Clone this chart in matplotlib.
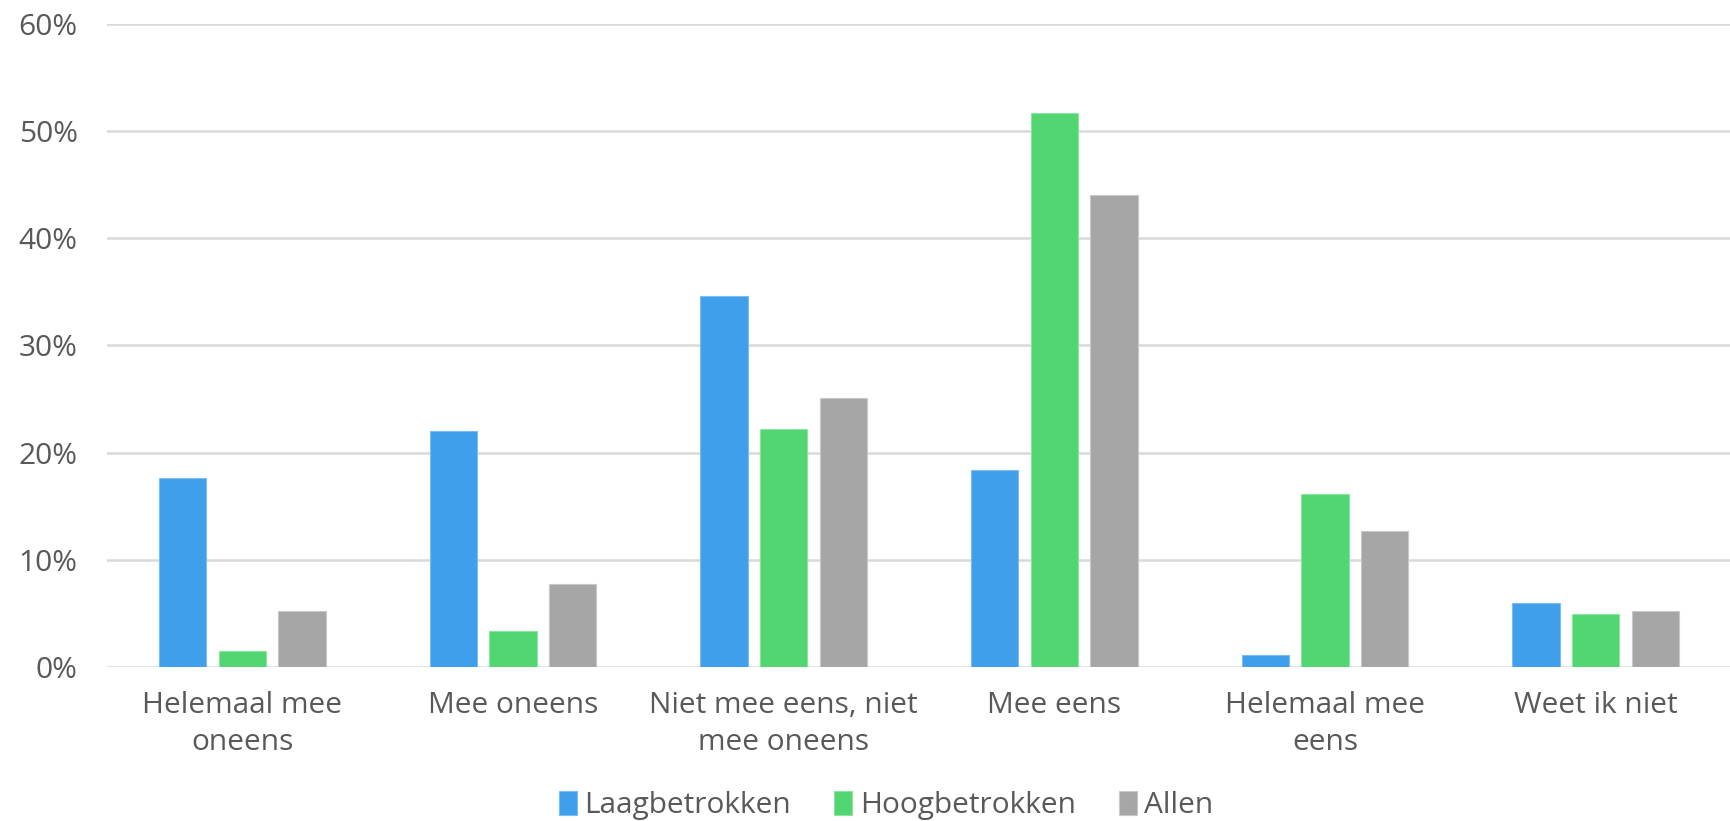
import matplotlib.pyplot as plt
import numpy as np
from matplotlib.ticker import PercentFormatter

categories = ['Helemaal mee\noneens', 'Mee oneens', 'Niet mee eens, niet\nmee oneens',
              'Mee eens', 'Helemaal mee\neens', 'Weet ik niet']
laag = [17.6, 22.0, 34.6, 18.4, 1.1, 6.0]
hoog = [1.5, 3.4, 22.2, 51.7, 16.1, 4.9]
allen = [5.2, 7.7, 25.1, 44.0, 12.7, 5.2]

series = [('Laagbetrokken', laag, '#409FEB', '#7BBDF2'),
          ('Hoogbetrokken', hoog, '#52D672', '#8AE5A0'),
          ('Allen', allen, '#A6A6A6', '#C8C8C8')]

plt.rcParams['font.family'] = ['Open Sans', 'DejaVu Sans']
text_color = '#595959'

fig = plt.figure(figsize=(17.31, 8.21), dpi=100)
ax = fig.add_axes([0.0618, 0.1876, 0.9382, 0.7832])

x = np.arange(len(categories))
width = 0.175
step = 0.22
for i, (name, vals, color, edge) in enumerate(series):
    ax.bar(x + (i - 1) * step, np.array(vals) / 100, width, color=color,
           edgecolor=edge, linewidth=0.8, label=name, zorder=3)

ax.set_xlim(-0.5, len(categories) - 0.5)
ax.set_ylim(0, 0.6)
ax.set_yticks(np.arange(0, 0.61, 0.1))
ax.yaxis.set_major_formatter(PercentFormatter(1.0, decimals=0))
ax.grid(axis='y', color='#D9D9D9', linewidth=1.8, zorder=0)
ax.set_axisbelow(True)
for s in ax.spines.values():
    s.set_visible(False)

ax.set_xticks(x)
ax.set_xticklabels(categories, fontsize=21.5, color=text_color, linespacing=1.4)
ax.tick_params(axis='x', length=0, pad=17)
ax.tick_params(axis='y', length=0, pad=21, labelsize=21.5, labelcolor=text_color)

fig.legend(loc='lower center', bbox_to_anchor=(0.512, -0.032), ncol=3, frameon=False,
           fontsize=21.5, labelcolor=text_color, handlelength=0.6, handleheight=0.85,
           handletextpad=0.25, columnspacing=1.45)

fig.savefig('out.png', dpi=100, facecolor='white')
